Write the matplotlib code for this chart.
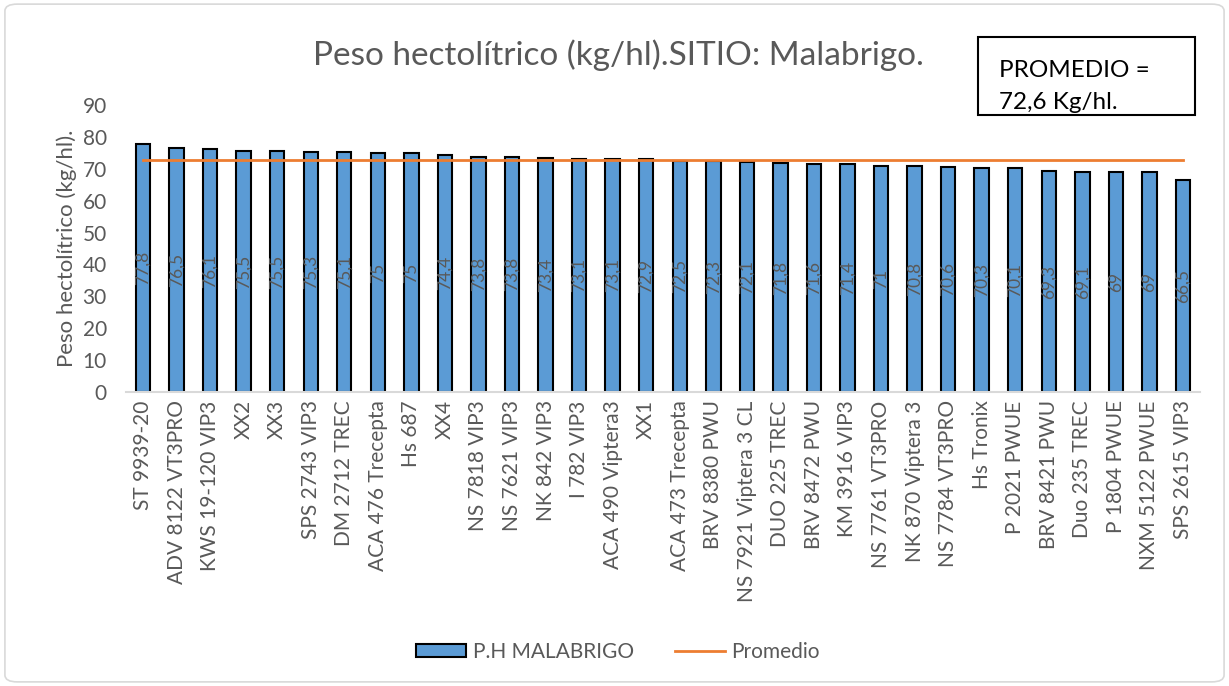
import matplotlib.pyplot as plt
from matplotlib.patches import FancyBboxPatch

plt.rcParams['font.family'] = ['Lato', 'DejaVu Sans']

# hibridos y peso hectolitrico (kg/hl)
hibridos = ["ST 9939-20", "ADV 8122 VT3PRO", "KWS 19-120 VIP3", "XX2", "XX3",
            "SPS 2743 VIP3", "DM 2712 TREC", "ACA 476 Trecepta", "Hs 687", "XX4",
            "NS 7818 VIP3", "NS 7621 VIP3", "NK 842 VIP3", "I 782 VIP3",
            "ACA 490 Viptera3", "XX1", "ACA 473 Trecepta", "BRV 8380 PWU",
            "NS 7921 Viptera 3 CL", "DUO 225 TREC", "BRV 8472 PWU", "KM 3916 VIP3",
            "NS 7761 VT3PRO", "NK 870 Viptera 3", "NS 7784 VT3PRO", "Hs Tronix",
            "P 2021 PWUE", "BRV 8421 PWU", "Duo 235 TREC", "P 1804 PWUE",
            "NXM 5122 PWUE", "SPS 2615 VIP3"]
peso = [77.8, 76.5, 76.1, 75.5, 75.5, 75.3, 75.1, 75, 75, 74.4, 73.8, 73.8,
        73.4, 73.1, 73.1, 72.9, 72.5, 72.3, 72.1, 71.8, 71.6, 71.4, 71, 70.8,
        70.6, 70.3, 70.1, 69.3, 69.1, 69, 69, 66.5]
promedio = 72.6

gris = "#595959"

fig = plt.figure(figsize=(12.29, 6.86), dpi=100)
ax = fig.add_axes([0.1027, 0.4286, 0.8735, 0.4184])

x = list(range(len(hibridos)))
bars = ax.bar(x, peso, width=0.43, color="#5b9bd5", edgecolor="black",
              linewidth=1.5, label="P.H MALABRIGO", zorder=2)
linea, = ax.plot(x, [promedio] * len(x), color="#ed7d31", linewidth=2,
                 label="Promedio", zorder=3)

for xi, v in zip(x, peso):
    txt = f"{v:g}".replace(".", ",")
    ax.text(xi, v / 2, txt, rotation=90, ha="center", va="center",
            fontsize=12.5, color=gris, zorder=4)

ax.set_xlim(-0.5, len(x) - 0.5)
ax.set_ylim(0, 90)
ax.set_yticks(range(0, 91, 10))
ax.set_xticks(x)
ax.set_xticklabels(hibridos, rotation=90, fontsize=15, color=gris)
ax.tick_params(axis="y", labelsize=15, labelcolor=gris, length=0, pad=14)
ax.tick_params(axis="x", length=0, pad=6)
for s in ["top", "right", "left"]:
    ax.spines[s].set_visible(False)
ax.spines["bottom"].set_color("#d9d9d9")
ax.spines["bottom"].set_linewidth(1.5)

ax.set_ylabel("Peso hectolítrico (kg/hl).", fontsize=16, color=gris, labelpad=4)

fig.text(0.503, 0.92, "Peso hectolítrico (kg/hl).SITIO: Malabrigo.",
         ha="center", va="center", fontsize=24, color=gris)

# cuadro del promedio
fig.text(0.813, 0.874, "PROMEDIO =\n72,6 Kg/hl.", ha="left", va="center",
         fontsize=17.5, color="black", linespacing=1.6)
fig.patches.append(plt.Rectangle((978 / 1229, 1 - 115 / 686), 217 / 1229,
                                 78 / 686, transform=fig.transFigure,
                                 fill=False, edgecolor="black", linewidth=1.5))

# borde exterior
fig.patches.append(FancyBboxPatch((0.004, 0.006), 0.992, 0.988,
                                  boxstyle="round,pad=0,rounding_size=0.01",
                                  transform=fig.transFigure, fill=False,
                                  edgecolor="#d9d9d9", linewidth=1.2))

leg = fig.legend([bars, linea], ["P.H MALABRIGO", "Promedio"], loc="center",
                 bbox_to_anchor=(0.503, 0.05), ncol=2, frameon=False,
                 fontsize=15, handlelength=2.4, handleheight=0.6,
                 handletextpad=0.3, columnspacing=2.0)
for t in leg.get_texts():
    t.set_color(gris)

fig.savefig("out.png", dpi=100)
